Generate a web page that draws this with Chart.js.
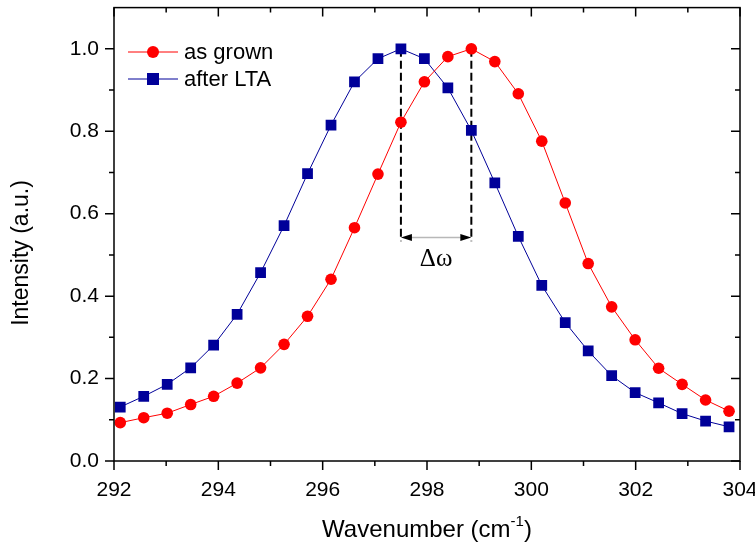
<!DOCTYPE html>
<html>
<head>
<meta charset="utf-8">
<script src="https://cdn.jsdelivr.net/npm/chart.js@4.4.0/dist/chart.umd.min.js"></script>
<style>
body{margin:0;background:#fff;}
canvas{display:block;}
</style>
</head>
<body>
<canvas id="grafico" width="755" height="554"></canvas>
<script>

// ---------------------
// DADOS
// ---------------------

const wavenumber=[292.12,292.57,293.02,293.47,293.91,294.36,294.81,295.26,295.71,296.16,296.61,297.06,297.50,297.95,298.40,298.85,299.30,299.75,300.20,300.65,301.09,301.54,301.99,302.44,302.89,303.34,303.79];

const asGrown=[0.093,0.105,0.116,0.137,0.157,0.189,0.226,0.283,0.351,0.441,0.566,0.696,0.822,0.920,0.981,1.000,0.969,0.891,0.776,0.626,0.479,0.374,0.294,0.225,0.186,0.148,0.121];

const afterLTA=[0.131,0.157,0.186,0.226,0.281,0.356,0.457,0.571,0.697,0.815,0.920,0.976,1.000,0.976,0.905,0.802,0.675,0.545,0.426,0.336,0.267,0.207,0.166,0.141,0.115,0.097,0.083];

const seriesNames=["as grown","after LTA"];

const xTicks=[292,294,296,298,300,302,304];
const yTicks=[0,0.2,0.4,0.6,0.8,1.0];

const xTitle="Wavenumber (cm";
const xTitleSup="-1";
const yTitle="Intensity (a.u.)";
const deltaLabel="Δω";

// anotação Δω (em unidades de intensidade)
const dashBottom=0.533;
const arrowLevel=0.542;
const deltaLevel=0.49;

const RED="#ff0000";
const BLUE="#000099";
const SANS="'Liberation Sans', Arial, sans-serif";

// ---------------------
// PLUGINS
// ---------------------

const molduraPlugin={
    id:"moldura",
    afterDraw(chart){
        const {ctx,chartArea:a,scales:{x,y}}=chart;
        ctx.save();
        ctx.strokeStyle="#000";
        ctx.lineWidth=1.5;
        ctx.strokeRect(a.left,a.top,a.right-a.left,a.bottom-a.top);

        ctx.beginPath();
        for(let v=x.min;v<=x.max;v++){
            const px=x.getPixelForValue(v);
            const len=(v%2===0)?9:5;
            ctx.moveTo(px,a.bottom);ctx.lineTo(px,a.bottom+len);
            ctx.moveTo(px,a.top);ctx.lineTo(px,a.top+len);
        }
        for(let i=0;i<=10;i++){
            const py=y.getPixelForValue(i/10);
            const len=(i%2===0)?9:5;
            ctx.moveTo(a.left-len,py);ctx.lineTo(a.left,py);
            ctx.moveTo(a.right-len,py);ctx.lineTo(a.right,py);
        }
        ctx.stroke();

        // títulos dos eixos
        ctx.fillStyle="#000";
        ctx.font="24px "+SANS;
        const w1=ctx.measureText(xTitle).width;
        ctx.font="15px "+SANS;
        const w2=ctx.measureText(xTitleSup).width;
        ctx.font="24px "+SANS;
        const w3=ctx.measureText(")").width;
        let sx=(a.left+a.right)/2-(w1+w2+w3)/2;
        const base=537;
        ctx.textBaseline="alphabetic";
        ctx.textAlign="left";
        ctx.fillText(xTitle,sx,base);
        ctx.font="15px "+SANS;
        ctx.fillText(xTitleSup,sx+w1,base-11);
        ctx.font="24px "+SANS;
        ctx.fillText(")",sx+w1+w2,base);

        ctx.translate(22,253);
        ctx.rotate(-Math.PI/2);
        ctx.textAlign="center";
        ctx.textBaseline="middle";
        ctx.font="23px "+SANS;
        ctx.fillText(yTitle,0,0);
        ctx.restore();

        // legenda
        ctx.save();
        const rows=[{y:52,color:RED,style:"circle"},{y:79,color:BLUE,style:"rect"}];
        rows.forEach((r,i)=>{
            ctx.strokeStyle=r.color;
            ctx.lineWidth=1;
            ctx.beginPath();
            ctx.moveTo(128,r.y);ctx.lineTo(178,r.y);
            ctx.stroke();
            ctx.fillStyle=r.color;
            if(r.style==="circle"){
                ctx.beginPath();ctx.arc(153,r.y,6,0,Math.PI*2);ctx.fill();
            }else{
                ctx.fillRect(147,r.y-6,12,12);
            }
            ctx.fillStyle="#000";
            ctx.font="22px "+SANS;
            ctx.textAlign="left";
            ctx.textBaseline="middle";
            ctx.fillText(seriesNames[i],184,r.y+1);
        });
        ctx.restore();
    }
};

const deltaPlugin={
    id:"delta",
    beforeDatasetsDraw(chart){
        const {ctx,scales:{x,y}}=chart;
        const iBlue=afterLTA.indexOf(Math.max(...afterLTA));
        const iRed=asGrown.indexOf(Math.max(...asGrown));
        const x1=x.getPixelForValue(wavenumber[iBlue]);
        const x2=x.getPixelForValue(wavenumber[iRed]);
        const yTop=y.getPixelForValue(1.0);
        const yBot=y.getPixelForValue(dashBottom);
        const yArr=y.getPixelForValue(arrowLevel);

        ctx.save();
        ctx.strokeStyle="#000";
        ctx.lineWidth=2;
        ctx.setLineDash([8,4]);
        ctx.beginPath();
        ctx.moveTo(x1,yTop);ctx.lineTo(x1,yBot);
        ctx.moveTo(x2,yTop);ctx.lineTo(x2,yBot);
        ctx.stroke();
        ctx.setLineDash([]);

        ctx.strokeStyle="#b8b8b8";
        ctx.lineWidth=1.5;
        ctx.beginPath();
        ctx.moveTo(x1+8,yArr);ctx.lineTo(x2-8,yArr);
        ctx.stroke();

        ctx.fillStyle="#000";
        ctx.beginPath();
        ctx.moveTo(x1,yArr);ctx.lineTo(x1+11,yArr-3.5);ctx.lineTo(x1+11,yArr+3.5);ctx.closePath();
        ctx.moveTo(x2,yArr);ctx.lineTo(x2-11,yArr-3.5);ctx.lineTo(x2-11,yArr+3.5);ctx.closePath();
        ctx.fill();

        ctx.font="25px 'Liberation Serif', 'Times New Roman', serif";
        ctx.textAlign="center";
        ctx.textBaseline="middle";
        ctx.fillText(deltaLabel,(x1+x2)/2,y.getPixelForValue(deltaLevel));
        ctx.restore();
    }
};

// ---------------------
// GRÁFICO
// ---------------------

function pontos(valores){
    return wavenumber.map((w,i)=>({x:w,y:valores[i]}));
}

new Chart(document.getElementById("grafico"),{

    type:"line",

    data:{
        datasets:[
            {
                label:seriesNames[0],
                data:pontos(asGrown),
                borderColor:RED,
                borderWidth:1,
                backgroundColor:RED,
                pointStyle:"circle",
                pointRadius:5.8,
                pointBorderWidth:0,
                pointBackgroundColor:RED,
                tension:0
            },
            {
                label:seriesNames[1],
                data:pontos(afterLTA),
                borderColor:BLUE,
                borderWidth:1,
                backgroundColor:BLUE,
                pointStyle:"rect",
                pointRadius:7.6,
                pointBorderWidth:0,
                pointBackgroundColor:BLUE,
                tension:0
            }
        ]
    },

    options:{
        responsive:false,
        animation:false,
        devicePixelRatio:1,
        layout:{padding:{left:0,right:15,top:5,bottom:0}},
        plugins:{legend:{display:false},tooltip:{enabled:false}},
        scales:{
            x:{
                type:"linear",
                min:292,
                max:304,
                afterBuildTicks:s=>{s.ticks=xTicks.map(v=>({value:v}));},
                afterFit:s=>{s.height=93;s.paddingLeft=0;s.paddingRight=0;},
                grid:{display:false,drawTicks:false},
                border:{display:false},
                ticks:{padding:17,color:"#000",maxRotation:0,font:{family:SANS,size:21}}
            },
            y:{
                type:"linear",
                min:0,
                max:1.1,
                afterBuildTicks:s=>{s.ticks=yTicks.map(v=>({value:v}));},
                afterFit:s=>{s.width=114;s.paddingTop=0;s.paddingBottom=0;},
                grid:{display:false,drawTicks:false},
                border:{display:false},
                ticks:{padding:15,color:"#000",callback:v=>v.toFixed(1),font:{family:SANS,size:21}}
            }
        }
    },

    plugins:[deltaPlugin,molduraPlugin]

});

</script>
</body>
</html>
